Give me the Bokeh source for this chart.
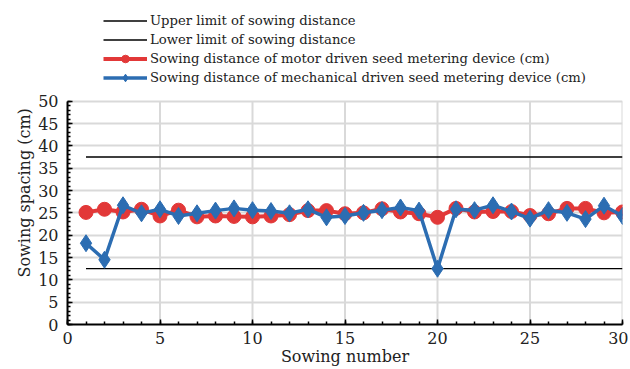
from bokeh.plotting import figure
from bokeh.models import Range1d, Legend, LegendItem, FixedTicker, Title
from bokeh.embed import file_html
from bokeh.resources import INLINE

sowing_number = list(range(1, 31))
motor = [25.1, 25.8, 25.2, 25.8, 24.3, 25.6, 24.1, 24.3, 24.2, 24.1,
         24.3, 24.6, 25.5, 25.5, 24.8, 25.0, 25.9, 25.2, 24.8, 24.0,
         26.0, 25.2, 25.3, 25.3, 24.4, 24.8, 26.0, 26.0, 25.0, 25.2]
mechanical = [18.2, 14.5, 26.7, 24.9, 25.8, 24.3, 24.9, 25.5, 26.0, 25.6,
              25.4, 24.9, 25.8, 24.0, 24.3, 25.0, 25.6, 26.2, 25.5, 12.5,
              25.8, 25.6, 26.7, 25.3, 23.7, 25.6, 25.0, 23.6, 26.6, 24.3]
upper_limit = 37.5
lower_limit = 12.5
x_ticks = [0, 5, 10, 15, 20, 25, 30]
y_ticks = [0, 5, 10, 15, 20, 25, 30, 35, 40, 45, 50]

FONT = "DejaVu Serif"
RED = "#e23838"
BLUE = "#2c6db2"
TXT = "#222222"

# frame layout (px): plotted data region 0..50 occupies 224 px; extra headroom above holds legend
Y_MAX = 50
plot_px = 224
head_px = 98
y_top = Y_MAX + Y_MAX * head_px / plot_px

p = figure(width=628, height=368, output_backend="svg", toolbar_location=None,
           x_range=Range1d(0, 30), y_range=Range1d(0, y_top),
           min_border_left=67, min_border_right=6, min_border_top=3, min_border_bottom=43)
p.outline_line_color = None
p.background_fill_color = "white"
p.xgrid.visible = False

# vertical grid lines limited to 0..50
p.segment(x0=x_ticks, y0=[0] * len(x_ticks), x1=x_ticks, y1=[Y_MAX] * len(x_ticks),
          line_color="#d9d9d9", line_width=2, level="underlay")

# limit lines
l_up = p.line(sowing_number, [upper_limit] * len(sowing_number), line_color="black", line_width=1.3)
l_lo = p.line(sowing_number, [lower_limit] * len(sowing_number), line_color="black", line_width=1.3)

r_line = p.line(sowing_number, motor, line_color=RED, line_width=4)
r_pts = p.scatter(sowing_number, motor, marker="circle", size=14, fill_color=RED, line_color=RED)
b_line = p.line(sowing_number, mechanical, line_color=BLUE, line_width=3.5)
b_pts = p.scatter(sowing_number, mechanical, marker="diamond", size=17, fill_color=BLUE, line_color=BLUE)

# axes
for ax in (p.xaxis[0], p.yaxis[0]):
    ax.axis_line_color = "black"
    ax.axis_line_width = 2
    ax.major_tick_in = 5
    ax.major_tick_out = 0
    ax.minor_tick_in = 3
    ax.minor_tick_out = 0
    ax.major_tick_line_width = 1.5
    ax.minor_tick_line_width = 1.5
    ax.major_tick_line_color = "black"
    ax.minor_tick_line_color = "black"
    ax.major_label_text_font = FONT
    ax.major_label_text_font_size = "16px"
    ax.major_label_text_color = TXT
    ax.axis_label_text_font = FONT
    ax.axis_label_text_font_size = "16px"
    ax.axis_label_text_font_style = "normal"
    ax.axis_label_text_color = TXT

p.yaxis.bounds = (0, Y_MAX)
p.xaxis.ticker = FixedTicker(ticks=x_ticks, minor_ticks=list(range(0, 31)))
p.yaxis.ticker = FixedTicker(ticks=y_ticks, minor_ticks=list(range(0, 51)))
p.xaxis.axis_label = "Sowing number"
p.xaxis.major_label_standoff = 7
p.yaxis.major_label_standoff = 9
p.xaxis.axis_label_standoff = 0

# y axis title, positioned along the 0..50 part of the axis
ytitle = Title(text="Sowing spacing (cm)", align="left", offset=47,
               text_font=FONT, text_font_size="16px", text_font_style="normal",
               text_color=TXT, standoff=4)
p.add_layout(ytitle, "left")

p.ygrid.ticker = FixedTicker(ticks=y_ticks)
p.ygrid.bounds = (0, Y_MAX)
p.ygrid.grid_line_color = "#d9d9d9"
p.ygrid.grid_line_width = 2

legend = Legend(items=[
    LegendItem(label="Upper limit of sowing distance", renderers=[l_up]),
    LegendItem(label="Lower limit of sowing distance", renderers=[l_lo]),
    LegendItem(label="Sowing distance of motor driven seed metering device (cm)", renderers=[r_line, r_pts]),
    LegendItem(label="Sowing distance of mechanical driven seed metering device (cm)", renderers=[b_line, b_pts]),
], location=(36, 237))
legend.label_text_font = FONT
legend.label_text_font_size = "13.2px"
legend.label_text_color = TXT
legend.glyph_width = 44
legend.glyph_height = 19
legend.label_height = 19
legend.label_standoff = 3
legend.spacing = 0
legend.padding = 0
legend.margin = 0
legend.border_line_color = None
legend.background_fill_alpha = 0
p.add_layout(legend)

open("out.html", "w").write(file_html(p, INLINE))
